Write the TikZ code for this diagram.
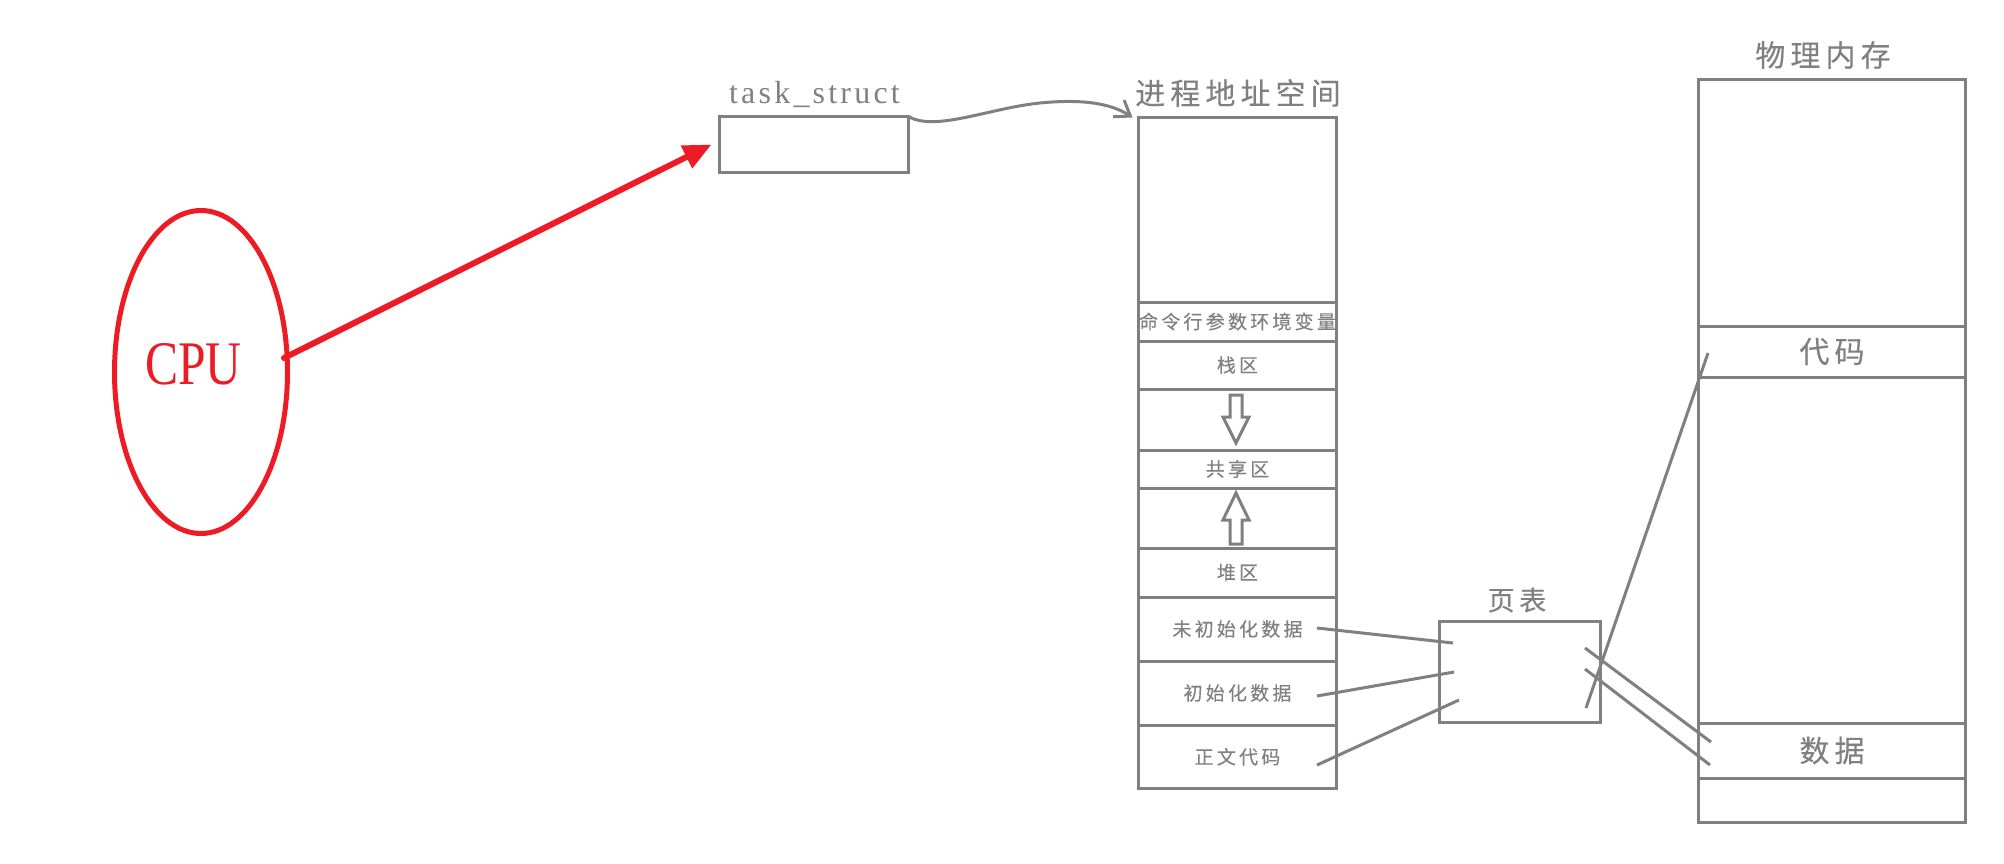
\documentclass[tikz,border=0pt]{standalone}
\usepackage{graphicx}
\usepackage{fontspec}
\setmainfont{Liberation Serif}
\newfontfamily\cjk[LetterSpace=17,FakeBold=0.3]{Noto Sans CJK SC}
\newfontfamily\latsp[LetterSpace=10]{Liberation Serif}
\usetikzlibrary{arrows.meta,shapes.geometric}
\definecolor{ln}{HTML}{808080}
\definecolor{cpured}{HTML}{ED1C24}
\begin{document}
\begin{tikzpicture}[x=0.5pt,y=-0.5pt,
  box/.style={draw=ln,line width=1.5pt,inner sep=0pt,outer sep=0pt,rectangle},
  pcol/.style={box,minimum width=99pt},
  mcol/.style={box,minimum width=133.5pt},
  small/.style={text=ln,font=\cjk\fontsize{9.5pt}{11pt}\selectfont},
  big/.style={text=ln,font=\cjk\fontsize{15pt}{18pt}\selectfont},
  conn/.style={draw=ln,line width=1.5pt},
  blockarrow/.style={draw=ln,fill=white,line width=1.5pt,line join=miter},
]
\useasboundingbox (0,0) rectangle (2004,863);

% CPU
\node[ellipse,draw=cpured,line width=2.5pt,minimum width=86.5pt,minimum height=161.5pt,inner sep=0pt] (cpu) at (201,372) {};
\node[text=cpured,font=\fontsize{31pt}{36pt}\selectfont,inner sep=0pt] (cpul) at (193.5,364) {\scalebox{0.8}[1]{CPU}};

% task_struct
\node[box,minimum width=94.5pt,minimum height=28pt] (ts) at (814,144.5) {};
\node[anchor=base,text=ln,font=\latsp\fontsize{16pt}{19pt}\selectfont,inner sep=0pt] (tsl) at (814.5,103) {task\_struct};

% process address space
\node[pcol,minimum height=92.25pt] (p0) at (1237.5,209.75) {};
\node[pcol,minimum height=19.5pt,small] (p1) at (1237.5,321.5) {命令行参数环境变量};
\node[pcol,minimum height=24pt,small] (p2) at (1237.5,365) {栈区};
\node[pcol,minimum height=30.5pt] (p3) at (1237.5,419.5) {};
\node[pcol,minimum height=19pt,small] (p4) at (1237.5,469) {共享区};
\node[pcol,minimum height=30pt] (p5) at (1237.5,518) {};
\node[pcol,minimum height=24.5pt,small] (p6) at (1237.5,572.5) {堆区};
\node[pcol,minimum height=32pt,small] (p7) at (1237.5,629) {未初始化数据};
\node[pcol,minimum height=32pt,small] (p8) at (1237.5,693) {初始化数据};
\node[pcol,minimum height=31.75pt,small] (p9) at (1237.5,756.75) {正文代码};
\node[big,inner sep=0pt] (pl) at (1238,93) {进程地址空间};

% block arrows
\draw[blockarrow] (1230,395) -- (1242,395) -- (1242,417) -- (1249,417) -- (1236,443) -- (1223,417) -- (1230,417) -- cycle;
\draw[blockarrow] (1236,493) -- (1249,520) -- (1242,520) -- (1242,544) -- (1230,544) -- (1230,520) -- (1223,520) -- cycle;

% page table
\node[box,minimum width=80.5pt,minimum height=50.5pt] (pt) at (1520,672) {};
\node[text=ln,font=\cjk\fontsize{13.5pt}{16pt}\selectfont,inner sep=0pt] (ptl) at (1517,600) {页表};

% physical memory
\node[mcol,minimum height=123.25pt] (m0) at (1832,202.75) {};
\node[mcol,minimum height=25.5pt,big] (m1) at (1832,351.5) {代码};
\node[mcol,minimum height=173pt] (m2) at (1832,550) {};
\node[mcol,minimum height=27.5pt,big] (m3) at (1832,750.5) {数据};
\node[mcol,minimum height=22.25pt] (m4) at (1832,800.25) {};
\node[big,inner sep=0pt] (ml) at (1823,55) {物理内存};

% connectors
\coordinate (redstart) at (284,358);
\coordinate (redend) at ([xshift=-4pt]ts.west);
\draw[cpured,line width=3pt,line cap=round,-{Triangle[length=14pt,width=12pt]}] (redstart) -- (redend);

\coordinate (pend) at ([xshift=-3pt]p0.north west);
\draw[conn,-{Straight Barb[length=7pt,width=10pt]}] (ts.north east) .. controls (935,132) and (990,108) .. (1040,103) .. controls (1090,98) and (1115,106) .. (pend);

\coordinate (a1) at (1317,628); \coordinate (b1) at (1453,643);
\coordinate (a2) at (1317,696); \coordinate (b2) at (1454,672);
\coordinate (a3) at (1317,765); \coordinate (b3) at (1459,700);
\coordinate (c1) at (1586,708); \coordinate (d1) at (1708,353);
\coordinate (c2) at (1585,648); \coordinate (d2) at (1711,742);
\coordinate (c3) at (1585,669); \coordinate (d3) at (1710,765);
\draw[conn] (a1) -- (b1);
\draw[conn] (a2) -- (b2);
\draw[conn] (a3) -- (b3);
\draw[conn] (c1) -- (d1);
\draw[conn] (c2) -- (d2);
\draw[conn] (c3) -- (d3);
\end{tikzpicture}
\end{document}
